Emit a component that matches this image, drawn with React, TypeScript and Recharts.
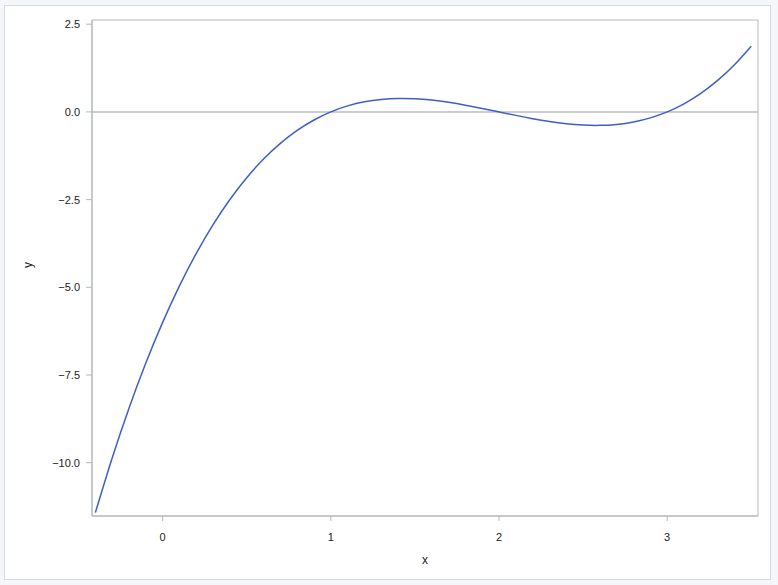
import React from "react";
import { LineChart, Line, XAxis, YAxis, ReferenceLine, ReferenceArea } from "recharts";

const xValues = [
  -0.4, -0.3, -0.2, -0.1, 0, 0.1, 0.2, 0.3, 0.4, 0.5, 0.6, 0.7, 0.8, 0.9, 1.0,
  1.1, 1.2, 1.3, 1.4, 1.5, 1.6, 1.7, 1.8, 1.9, 2.0, 2.1, 2.2, 2.3, 2.4, 2.5,
  2.6, 2.7, 2.8, 2.9, 3.0, 3.1, 3.2, 3.3, 3.4, 3.5,
];
const yValues = [
  -11.424, -9.867, -8.448, -7.161, -6, -4.959, -4.032, -3.213, -2.496, -1.875,
  -1.344, -0.897, -0.528, -0.231, 0, 0.171, 0.288, 0.357, 0.384, 0.375, 0.336,
  0.273, 0.192, 0.099, 0, -0.099, -0.192, -0.273, -0.336, -0.375, -0.384,
  -0.357, -0.288, -0.171, 0, 0.231, 0.528, 0.897, 1.344, 1.875,
];
const xTicks = [0, 1, 2, 3];
const yTicks = [-10, -7.5, -5, -2.5, 0, 2.5];
const xDomain = [-0.42, 3.54];
const yDomain = [-11.52, 2.62];

const data = xValues.map((x, i) => ({ x, y: yValues[i] }));

const fmtY = (v: number) => v.toFixed(1).replace("-", "\u2212");
const font = "'Liberation Sans', Arial, sans-serif";
const frame = "#b4b8bc";

export default function App() {
  return (
    <div
      style={{
        position: "absolute",
        left: 0,
        top: 0,
        width: 778,
        height: 585,
        background: "#f4f6fa",
        fontFamily: font,
      }}
    >
      <div
        style={{
          position: "absolute",
          left: 4,
          top: 5,
          width: 765,
          height: 573,
          background: "#ffffff",
          border: "1px solid #d6d9de",
        }}
      />
      <div style={{ position: "absolute", left: 0, top: 0 }}>
        <LineChart
          width={778}
          height={585}
          data={data}
          margin={{ top: 20, right: 20, left: 0, bottom: 0 }}
        >
          <XAxis
            dataKey="x"
            type="number"
            domain={xDomain}
            ticks={xTicks}
            allowDataOverflow
            height={69}
            axisLine={{ stroke: frame }}
            tickLine={{ stroke: frame }}
            tickSize={5}
            tickMargin={12}
            tick={{ fill: "#222", fontSize: 11, fontFamily: font }}
            label={{ value: "x", position: "insideBottom", offset: 21, fill: "#222", fontSize: 12, fontFamily: font }}
          />
          <YAxis
            type="number"
            domain={yDomain}
            ticks={yTicks}
            allowDataOverflow
            width={92}
            axisLine={{ stroke: frame }}
            tickLine={{ stroke: frame }}
            tickSize={6}
            tickMargin={6}
            tickFormatter={fmtY}
            tick={{ fill: "#222", fontSize: 11, fontFamily: font }}
            label={{ value: "y", angle: -90, position: "insideLeft", offset: 28, fill: "#222", fontSize: 12, fontFamily: font }}
          />
          <ReferenceArea
            x1={xDomain[0]}
            x2={xDomain[1]}
            y1={yDomain[0]}
            y2={yDomain[1]}
            fill="none"
            fillOpacity={0}
            stroke={frame}
            strokeWidth={1}
            ifOverflow="visible"
          />
          <ReferenceLine y={0} stroke="#b8bcc0" strokeWidth={1.5} />
          <Line
            dataKey="y"
            type="natural"
            stroke="#3d5fc6"
            strokeWidth={1.5}
            dot={false}
            isAnimationActive={false}
          />
        </LineChart>
      </div>
    </div>
  );
}
